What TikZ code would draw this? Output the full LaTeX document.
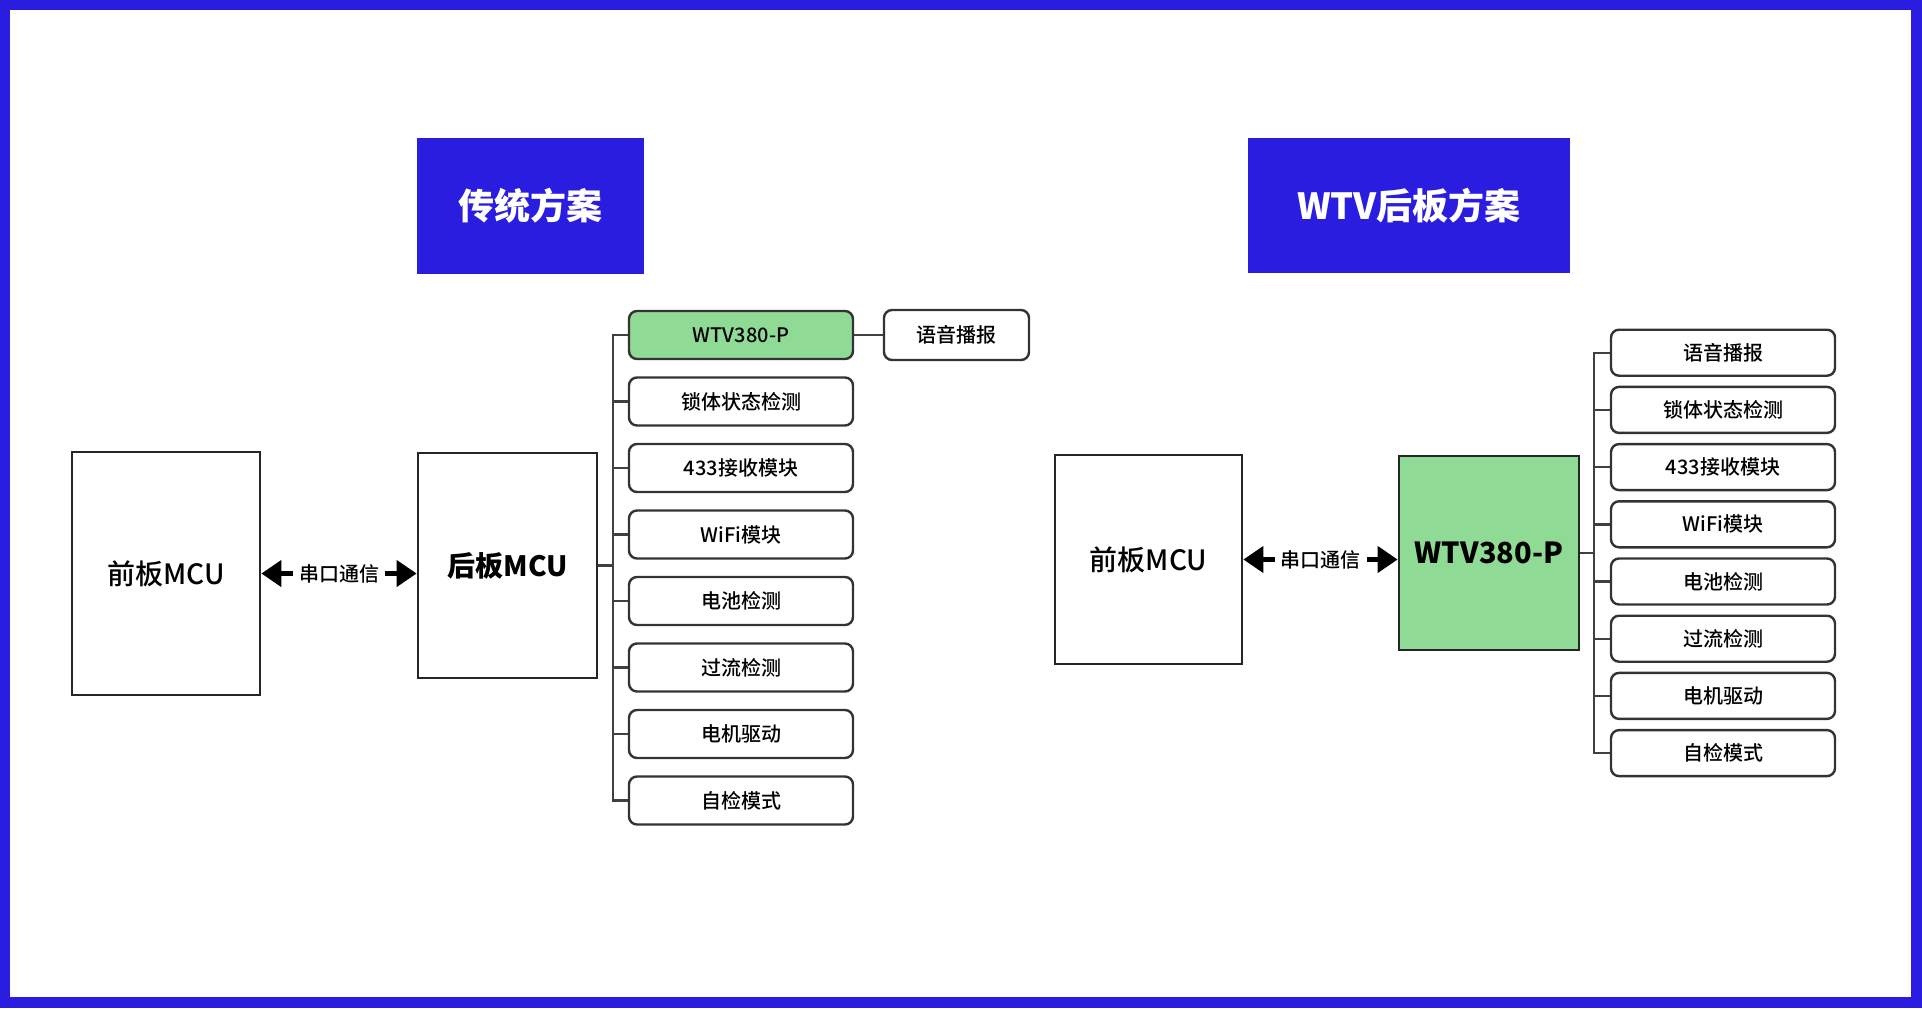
\documentclass[tikz,border=0pt]{standalone}
\usepackage{fontspec}
\setmainfont{Noto Sans CJK SC}
\newfontfamily\medfont{Noto Sans CJK SC Medium}
\usetikzlibrary{arrows.meta}
\definecolor{frameblue}{HTML}{2B1DDF}
\definecolor{chipgreen}{HTML}{8FDA95}

\begin{document}
\begin{tikzpicture}[x=0.5pt, y=-0.5pt, >={Triangle[length=10pt,width=13pt]},
    every node/.style={font=\medfont\fontsize{10}{12}\selectfont, inner sep=0pt},
    titlebox/.style={fill=frameblue, text=white, font=\fontsize{18}{20}\selectfont\bfseries},
    mcubox/.style={draw=black!85, line width=1.4pt, font=\medfont\fontsize{14}{16}\selectfont},
    itembox/.style={draw=black!80, line width=1.2pt, rounded corners=4pt, minimum width=112pt, minimum height=24pt},
    link/.style={draw=black!75, line width=1.2pt},
    serial/.style={line width=2.2pt, <->}]
    % frame
    \fill[frameblue] (0,0) rectangle (1922,1008);
    \fill[white] (10,10) rectangle (1911,997);

    \node[titlebox, minimum width=113.5pt, minimum height=68pt] (tl) at (530.5,206) {传统方案};
    \node[titlebox, minimum width=161pt, minimum height=67.5pt] (tr) at (1409,205.5) {WTV后板方案};

    % traditional scheme
    \node[mcubox, minimum width=94pt, minimum height=121.5pt] (fl) at (166,573.5) {前板MCU};
    \node[mcubox, minimum width=89.5pt, minimum height=112.5pt, font=\fontsize{14}{16}\selectfont\bfseries] (bl) at (507.5,565.5) {后板MCU};
    \draw[serial] (fl.east) -- node[fill=white, inner sep=3pt] {串口通信} (fl.east -| bl.west);

    \coordinate (lbus) at (613,335);
    \node[itembox, fill=chipgreen] (ls1) at (741,335) {WTV380-P};
    \foreach \t [count=\i from 2] in {锁体状态检测, 433接收模块, WiFi模块, 电池检测, 过流检测, 电机驱动, 自检模式}
      \node[itembox] (ls\i) at (741,{335+66.5*(\i-1)}) {\t};
    \draw[link] (ls1.west) -| (ls8.west -| lbus) -- (ls8.west);
    \foreach \i in {2,...,7}
      \draw[link] (ls\i.west) -- (ls\i.west -| lbus);
    \draw[link] (bl.east) -- (bl.east -| lbus);
    \node[itembox, minimum width=72.5pt, minimum height=25pt] (voice) at (956.5,335) {语音播报};
    \draw[link] (ls1) -- (voice);

    % WTV scheme
    \node[mcubox, minimum width=93.5pt, minimum height=104.5pt] (fr) at (1148.5,559.5) {前板MCU};
    \node[mcubox, fill=chipgreen, minimum width=90pt, minimum height=97pt, font=\fontsize{14.5}{16}\selectfont\bfseries] (wtv) at (1489,553) {WTV380-P};
    \draw[serial] (fr.east) -- node[fill=white, inner sep=3pt] {串口通信} (fr.east -| wtv.west);

    \coordinate (rbus) at (1594,353);
    \foreach \t [count=\i] in {语音播报, 锁体状态检测, 433接收模块, WiFi模块, 电池检测, 过流检测, 电机驱动, 自检模式}
      \node[itembox, minimum height=23pt] (rs\i) at (1723,{352.7+57.2*(\i-1)}) {\t};
    \draw[link] (rs1.west) -| (rs8.west -| rbus) -- (rs8.west);
    \foreach \i in {2,...,7}
      \draw[link] (rs\i.west) -- (rs\i.west -| rbus);
    \draw[link] (wtv.east) -- (wtv.east -| rbus);
  \end{tikzpicture}
\end{document}
